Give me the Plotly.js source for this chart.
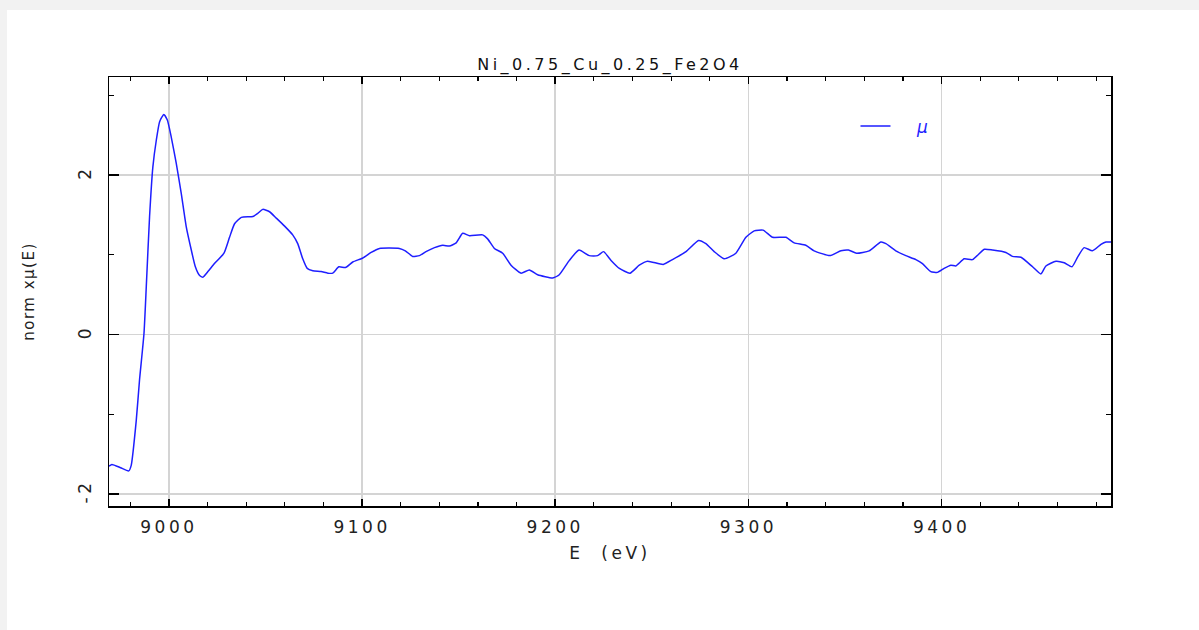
<!DOCTYPE html>
<html>
<head>
<meta charset="utf-8">
<script src="https://cdn.plot.ly/plotly-3.0.1.min.js"></script>
<style>
  html, body { margin: 0; padding: 0; background: #f2f2f2; width: 1199px; height: 630px; overflow: hidden; }
  #card { position: absolute; left: 7px; top: 10px; width: 1192px; height: 620px; background: #ffffff; }
  #chart { width: 1192px; height: 620px; }
  .xtick text, .ytick text, .gtitle, .xtitle { letter-spacing: 3.5px; }
  .ytitle { letter-spacing: 1.5px; }
</style>
</head>
<body>
<div id="card"><div id="chart"></div></div>
<script>
// Energy (eV)
const energy = [
  8969.0, 8970.5, 8975.0, 8979.2, 8980.5, 8983.1, 8984.8, 8987.1, 8988.3, 8990.0,
  8991.7, 8993.5, 8995.2, 8997.4, 8999.2, 9001.2, 9003.8, 9006.4, 9009.0, 9011.6,
  9013.7, 9015.9, 9017.6, 9020.2, 9023.6, 9028.5, 9031.4, 9034.0, 9037.5, 9043.5,
  9046.0, 9048.6, 9052.1, 9055.6, 9059.9, 9064.1, 9066.7, 9069.3, 9071.6, 9074.5,
  9078.8, 9082.3, 9084.8, 9088.0, 9091.4, 9095.2, 9100.4, 9104.7, 9109.0, 9119.3,
  9122.4, 9126.2, 9129.7, 9133.1, 9137.5, 9141.8, 9145.2, 9148.7, 9152.1, 9155.6,
  9162.4, 9165.0, 9168.5, 9172.8, 9177.1, 9182.3, 9186.6, 9190.9, 9198.7, 9202.1,
  9207.3, 9212.3, 9217.6, 9221.9, 9225.0, 9228.9, 9233.2, 9238.7, 9243.5, 9247.8,
  9255.9, 9260.7, 9267.7, 9274.2, 9278.0, 9282.3, 9287.5, 9293.5, 9298.7, 9303.0,
  9307.6, 9312.5, 9319.4, 9323.7, 9329.7, 9334.0, 9342.2, 9347.9, 9351.8, 9356.0,
  9362.5, 9368.6, 9371.2, 9376.3, 9381.5, 9386.7, 9390.1, 9394.4, 9397.9, 9401.3,
  9404.8, 9407.4, 9411.7, 9416.0, 9422.1, 9426.4, 9433.3, 9436.7, 9441.1, 9447.1,
  9451.4, 9454.0, 9459.2, 9463.5, 9467.5, 9470.4, 9473.8, 9478.1, 9482.5, 9485.1,
  9487.7
];
// normalised mu(E)
const mu = [
  -1.65, -1.63, -1.67, -1.71, -1.64, -1.08, -0.57, 0.01, 0.60, 1.48,
  2.10, 2.44, 2.67, 2.76, 2.69, 2.48, 2.15, 1.77, 1.35, 1.06,
  0.85, 0.74, 0.72, 0.79, 0.89, 1.02, 1.22, 1.39, 1.47, 1.48,
  1.52, 1.57, 1.54, 1.46, 1.36, 1.25, 1.14, 0.95, 0.83, 0.80,
  0.79, 0.77, 0.77, 0.85, 0.84, 0.91, 0.96, 1.03, 1.08, 1.08,
  1.05, 0.98, 0.99, 1.04, 1.09, 1.12, 1.11, 1.15, 1.27, 1.24,
  1.25, 1.20, 1.08, 1.02, 0.87, 0.77, 0.81, 0.75, 0.71, 0.75,
  0.93, 1.06, 0.99, 0.99, 1.04, 0.93, 0.83, 0.77, 0.87, 0.92,
  0.88, 0.94, 1.04, 1.18, 1.14, 1.04, 0.95, 1.02, 1.22, 1.30,
  1.31, 1.22, 1.22, 1.15, 1.12, 1.05, 0.99, 1.05, 1.06, 1.02,
  1.05, 1.16, 1.14, 1.05, 0.99, 0.94, 0.89, 0.79, 0.78, 0.83,
  0.87, 0.86, 0.95, 0.94, 1.07, 1.06, 1.03, 0.98, 0.97, 0.85,
  0.76, 0.86, 0.92, 0.90, 0.85, 0.97, 1.09, 1.05, 1.13, 1.16,
  1.16
];
const xTickVals = [9000, 9100, 9200, 9300, 9400];
const xTickText = ['9000', '9100', '9200', '9300', '9400'];
const yTickVals = [-2, 0, 2];
const yTickText = ['-2', '0', '2'];

const FONT = 'DejaVu Sans, sans-serif';

const trace = {
  x: energy, y: mu, type: 'scatter', mode: 'lines',
  name: '\u00a0\u00a0\u00a0\u00a0<i>\u03bc</i>',
  line: { color: 'rgb(30,30,255)', width: 1.5, shape: 'spline', smoothing: 0.5 }
};

const layout = {
  width: 1192, height: 620,
  paper_bgcolor: '#ffffff', plot_bgcolor: '#ffffff',
  margin: { l: 102, r: 88, t: 67, b: 124 },
  font: { family: FONT, size: 17, color: '#222' },
  title: {
    text: 'Ni_0.75_Cu_0.25_Fe2O4',
    font: { family: FONT, size: 16, color: '#111' },
    xref: 'paper', x: 0.5, xanchor: 'center',
    yref: 'container', y: 1 - 54 / 620, yanchor: 'middle'
  },
  showlegend: true,
  legend: {
    x: 0.745, y: 0.885, xanchor: 'left', yanchor: 'middle',
    bgcolor: 'rgba(0,0,0,0)', borderwidth: 0,
    font: { family: FONT, size: 17, color: 'rgb(30,30,255)' }
  },
  xaxis: {
    range: [8969, 9487.7],
    tickmode: 'array', tickvals: xTickVals, ticktext: xTickText,
    ticks: 'inside', ticklen: 7, tickwidth: 1.5, tickcolor: '#000',
    showline: true, linecolor: '#000', linewidth: 1.5, mirror: 'ticks',
    showgrid: true, gridcolor: '#d4d4d4', gridwidth: 1.5,
    zeroline: false,
    minor: { dtick: 20, tick0: 9000, ticks: 'inside', ticklen: 4, tickwidth: 1.2, tickcolor: '#000', showgrid: false },
    tickfont: { family: FONT, size: 17, color: '#222' },
    ticklabelstandoff: 5,
    title: { text: 'E\u00a0\u00a0(eV)', standoff: 11, font: { family: FONT, size: 17, color: '#222' } }
  },
  yaxis: {
    range: [-2.15, 3.23],
    tickmode: 'array', tickvals: yTickVals, ticktext: yTickText,
    tickangle: -90,
    ticks: 'inside', ticklen: 10, tickwidth: 1.5, tickcolor: '#000',
    showline: true, linecolor: '#000', linewidth: 1.5, mirror: 'ticks',
    showgrid: true, gridcolor: '#d4d4d4', gridwidth: 1.5,
    zeroline: false,
    minor: { dtick: 1, tick0: 0, ticks: 'inside', ticklen: 5, tickwidth: 1.2, tickcolor: '#000', showgrid: false },
    tickfont: { family: FONT, size: 17, color: '#222' },
    ticklabelstandoff: 10,
    title: { text: 'norm x\u03bc(E)', standoff: 36, font: { family: FONT, size: 15, color: '#222' } }
  }
};

Plotly.newPlot('chart', [trace], layout, { displayModeBar: false, staticPlot: true });
</script>
</body>
</html>
